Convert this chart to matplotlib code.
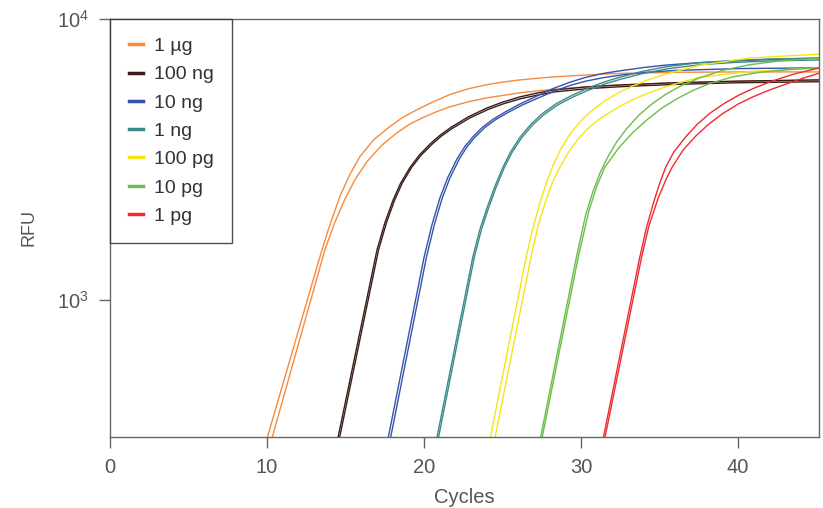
import numpy as np
import matplotlib.pyplot as plt

plt.rcParams['font.family'] = ['Liberation Sans', 'DejaVu Sans']
plt.rcParams['mathtext.fontset'] = 'custom'
plt.rcParams['mathtext.rm'] = 'Liberation Sans'

# amplification curves, two replicates per sample
labels = ['1 \u00b5g', '100 ng', '10 ng', '1 ng', '100 pg', '10 pg', '1 pg']
colors = ['#f68b3c', '#3a1c18', '#3552ad', '#3d8a89', '#f7e413', '#6cbd4a', '#ee2b2e']

ug1_a_x = [9.99, 13.36, 13.9, 14.63, 15.25, 15.9, 16.8, 17.8, 18.6, 19.5, 20.6, 21.7, 22.8,
           24.0, 25.0, 26.1, 28.2, 30.3, 32.4, 36.0, 40.0, 45.2]
ug1_a_y = [320, 1420, 1780, 2330, 2780, 3230, 3720, 4130, 4450, 4740, 5080, 5400, 5640,
           5840, 5960, 6070, 6220, 6320, 6400, 6460, 6480, 6480]
ug1_b_x = [10.3, 13.68, 14.3, 14.95, 15.6, 16.35, 17.3, 18.26, 19.1, 19.9, 20.8, 21.6, 22.8,
           24.0, 26.1, 28.2, 30.3, 32.4, 36.0, 40.0, 45.2]
ug1_b_y = [320, 1507, 1880, 2280, 2680, 3100, 3550, 3930, 4230, 4450, 4680, 4860, 5070,
           5240, 5460, 5620, 5730, 5820, 5930, 6000, 6070]

ng100_a_x = [14.5, 17.0, 17.5, 18.0, 18.5, 19.1, 19.7, 20.4, 21.0, 21.7, 22.8, 24.0, 25.0,
             26.1, 27.2, 28.2, 30.3, 32.4, 36.0, 40.0, 45.2]
ng100_a_y = [320, 1507, 1880, 2250, 2600, 2960, 3280, 3600, 3850, 4110, 4480, 4820, 5060,
             5280, 5450, 5580, 5730, 5820, 5930, 6010, 6070]
ng100_b_x = [14.6, 17.1, 17.6, 18.1, 18.6, 19.2, 19.8, 20.5, 21.1, 21.8, 22.9, 24.1, 25.1,
             26.2, 27.3, 28.3, 30.4, 32.5, 36.0, 40.0, 45.2]
ng100_b_y = [320, 1507, 1880, 2250, 2600, 2960, 3270, 3580, 3830, 4080, 4440, 4770, 5000,
             5210, 5370, 5500, 5650, 5740, 5850, 5930, 5980]

ng10_a_x = [17.7, 20.0, 20.5, 21.0, 21.5, 22.1, 22.6, 23.1, 23.7, 24.4, 25.2, 26.1, 27.0,
            28.2, 29.3, 30.3, 31.4, 32.4, 34.0, 35.4, 37.5, 39.6, 42.0, 45.2]
ng10_a_y = [320, 1420, 1850, 2300, 2720, 3180, 3520, 3800, 4110, 4400, 4680, 4980, 5260,
            5650, 5960, 6200, 6400, 6530, 6720, 6855, 6990, 7080, 7180, 7260]
ng10_b_x = [17.85, 20.15, 20.65, 21.15, 21.65, 22.25, 22.75, 23.25, 23.85, 24.55, 25.35,
            26.25, 27.15, 28.3, 29.3, 30.3, 31.4, 32.4, 34.0, 36.0, 40.0, 45.2]
ng10_b_y = [320, 1420, 1850, 2300, 2720, 3180, 3520, 3800, 4100, 4380, 4650,
            4940, 5200, 5540, 5800, 6010, 6180, 6300, 6450, 6560, 6660, 6700]

ng1_a_x = [20.8, 23.1, 23.55, 24.0, 24.5, 25.0, 25.5, 26.1, 26.8, 27.5, 28.4, 29.3, 30.3,
           31.4, 32.4, 33.8, 35.4, 37.5, 39.6, 42.0, 45.2]
ng1_a_y = [320, 1420, 1780, 2120, 2530, 2950, 3360, 3790, 4220, 4590, 4990, 5310, 5630,
           5950, 6190, 6490, 6760, 6990, 7110, 7200, 7260]
ng1_b_x = [20.9, 23.2, 23.65, 24.1, 24.6, 25.1, 25.6, 26.2, 26.9, 27.6, 28.5, 29.4, 30.4,
           31.5, 32.5, 33.9, 35.5, 37.6, 39.7, 42.0, 45.2]
ng1_b_y = [320, 1420, 1780, 2120, 2530, 2950, 3350, 3770, 4190, 4550, 4940, 5250, 5560,
           5870, 6100, 6390, 6650, 6880, 7000, 7090, 7150]

pg100_a_x = [24.2, 26.5, 26.9, 27.35, 27.8, 28.2, 28.7, 29.3, 30.0, 30.7, 31.5, 32.4, 33.3,
             34.3, 35.4, 37.5, 40.7, 45.2]
pg100_a_y = [320, 1420, 1780, 2190, 2620, 3000, 3440, 3900, 4350, 4730, 5110, 5470, 5780,
             6080, 6370, 6840, 7260, 7500]
pg100_b_x = [24.5, 26.9, 27.3, 27.8, 28.2, 28.6, 29.1, 29.7, 30.4, 31.2, 32.4, 33.3, 34.3,
             35.4, 37.5, 40.7, 45.2]
pg100_b_y = [320, 1507, 1870, 2300, 2640, 2930, 3290, 3680, 4060, 4420, 4870, 5160, 5460,
             5740, 6200, 6500, 6700]

pg10_a_x = [27.4, 29.7, 30.3, 30.75, 31.2, 31.7, 32.25, 32.9, 33.7, 34.5, 35.4, 36.4, 37.5,
            39.0, 40.7, 42.7, 45.2]
pg10_a_y = [320, 1420, 2020, 2430, 2830, 3230, 3640, 4070, 4560, 4980, 5400, 5800, 6160,
            6560, 6870, 7100, 7260]
pg10_b_x = [27.5, 29.85, 30.5, 31.0, 31.5, 32.4, 33.3, 34.2, 35.1, 36.1, 37.1, 38.2, 39.7,
            41.3, 43.2, 45.2]
pg10_b_y = [320, 1450, 2080, 2540, 2960, 3480, 3950, 4380, 4800, 5200, 5560, 5900, 6230,
            6450, 6600, 6700]

pg1_a_x = [31.4, 33.7, 34.15, 34.6, 35.0, 35.4, 35.9, 36.7, 37.4, 38.2, 39.1, 40.1, 41.1,
           42.2, 43.6, 45.2]
pg1_a_y = [320, 1390, 1800, 2210, 2600, 2980, 3360, 3830, 4220, 4620, 5000, 5380, 5700,
           6020, 6380, 6700]
pg1_b_x = [31.5, 33.85, 34.3, 34.9, 35.4, 35.8, 36.5, 37.3, 38.1, 39.0, 40.0, 40.9, 42.0,
           43.1, 44.1, 45.2]
pg1_b_y = [320, 1420, 1820, 2300, 2680, 2970, 3420, 3830, 4210, 4600, 4980, 5270, 5590,
           5880, 6150, 6420]

series = [
    [(ug1_a_x, ug1_a_y), (ug1_b_x, ug1_b_y)],
    [(ng100_a_x, ng100_a_y), (ng100_b_x, ng100_b_y)],
    [(ng10_a_x, ng10_a_y), (ng10_b_x, ng10_b_y)],
    [(ng1_a_x, ng1_a_y), (ng1_b_x, ng1_b_y)],
    [(pg100_a_x, pg100_a_y), (pg100_b_x, pg100_b_y)],
    [(pg10_a_x, pg10_a_y), (pg10_b_x, pg10_b_y)],
    [(pg1_a_x, pg1_a_y), (pg1_b_x, pg1_b_y)],
]

fig = plt.figure(figsize=(8.23, 5.08), dpi=100)
ax = fig.add_axes([0.1337, 0.1398, 0.8615, 0.8228])

for reps, col, lab in zip(series, colors, labels):
    for i, (xs, ys) in enumerate(reps):
        ax.plot(xs, ys, color=col, lw=1.0, label=lab if i == 0 else None)

ax.set_yscale('log')
ax.set_xlim(0, 45.15)
ax.set_ylim(325, 10000)
ax.set_xticks([0, 10, 20, 30, 40])
ax.set_yticks([1000, 10000])
ax.set_yticklabels([r'$\mathregular{10^3}$', r'$\mathregular{10^4}$'])
ax.yaxis.set_minor_locator(plt.NullLocator())

grey = '#555555'
for s in ax.spines.values():
    s.set_color('#666666')
    s.set_linewidth(1.0)
ax.tick_params(axis='both', direction='out', length=8, width=1, color='#666666',
               labelcolor=grey, labelsize=14.5, pad=7)

ax.set_xlabel('Cycles', fontsize=14.5, color=grey, labelpad=8)
ax.set_ylabel('RFU', fontsize=13, color=grey, labelpad=14)

leg = ax.legend(loc='upper left', bbox_to_anchor=(0, 1), borderaxespad=0,
                frameon=True, fancybox=False, fontsize=14, handlelength=0.75,
                handletextpad=0.55, labelspacing=0.55, borderpad=0.95)
leg.get_frame().set_edgecolor('#222222')
leg.get_frame().set_linewidth(1.0)
for h in leg.get_lines():
    h.set_linewidth(2.5)
for t in leg.get_texts():
    t.set_color('#333333')

fig.savefig('out.png', dpi=100)
